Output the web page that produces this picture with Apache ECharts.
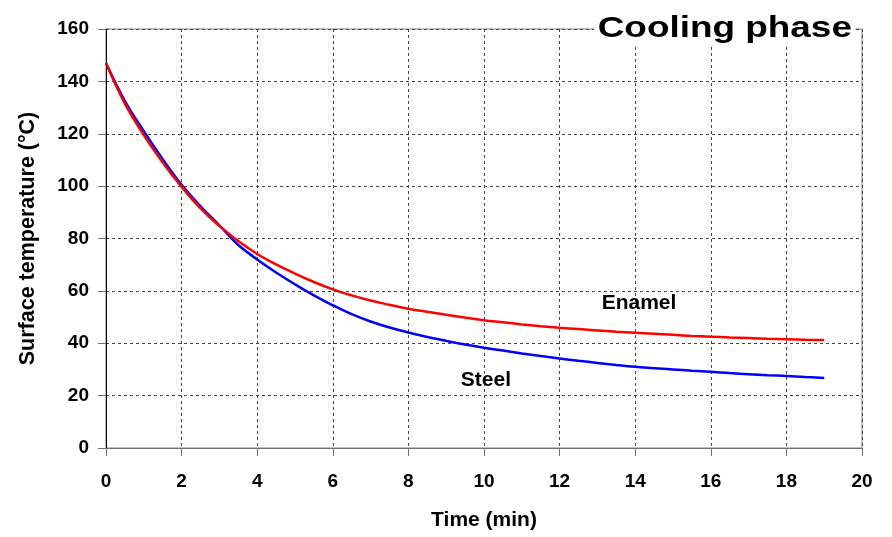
<!DOCTYPE html>
<html>
<head>
<meta charset="utf-8">
<script src="https://cdn.jsdelivr.net/npm/echarts@6/dist/echarts.min.js"></script>
<style>
  html, body { margin: 0; padding: 0; background: #fff; }
  #chart { width: 892px; height: 537px; }
</style>
</head>
<body>
<div id="chart"></div>
<script>
  // time in minutes (every half minute), surface temperature in °C
  var times = [0, 0.5, 1, 1.5, 2, 2.5, 3, 3.5, 4, 4.5, 5, 5.5, 6, 6.5, 7, 7.5, 8, 8.5, 9, 9.5,
               10, 10.5, 11, 11.5, 12, 12.5, 13, 13.5, 14, 14.5, 15, 15.5, 16, 16.5, 17, 17.5, 18, 18.5, 19];
  var enamel = [147, 131.5, 119.5, 109, 99.7, 91.5, 84.8, 79, 74.1, 70.1, 66.6, 63.4, 60.6, 58.3, 56.3, 54.7, 53.2, 52, 50.9, 49.8,
                48.8, 48, 47.2, 46.5, 45.9, 45.4, 44.9, 44.4, 44.0, 43.6, 43.2, 42.8, 42.5, 42.2, 42.0, 41.7, 41.5, 41.3, 41.2];
  var steel = [147, 132.5, 121, 110.3, 100.5, 92.3, 85, 77.5, 72, 67, 62.5, 58.3, 54.5, 51.1, 48.3, 46.0, 44.1, 42.4, 40.9, 39.5,
               38.3, 37.2, 36.1, 35.1, 34.2, 33.3, 32.5, 31.7, 31.0, 30.5, 30.0, 29.5, 29.1, 28.6, 28.2, 27.8, 27.5, 27.1, 26.7];

  function pairs(ys) {
    return times.map(function (t, i) { return [t, ys[i]]; });
  }

  var font = '"Liberation Sans", Arial, sans-serif';
  var myChart = echarts.init(document.getElementById('chart'));

  var option = {
    animation: false,
    grid: {
      left: 106, right: 30, top: 29, bottom: 89,
      show: true, borderColor: '#808080', borderWidth: 1
    },
    xAxis: {
      type: 'value',
      min: 0, max: 20, interval: 2,
      name: 'Time (min)',
      nameLocation: 'middle',
      nameGap: 62,
      nameTextStyle: { fontFamily: font, fontWeight: 'bold', fontSize: 21, color: '#000' },
      axisLine: { lineStyle: { color: '#707070', width: 1 } },
      axisTick: { show: true, length: 8, lineStyle: { color: '#707070' } },
      axisLabel: { margin: 24, fontFamily: font, fontWeight: 'bold', fontSize: 19, color: '#000' },
      splitLine: { show: true, lineStyle: { color: '#444', type: [3, 3], width: 1 } }
    },
    yAxis: {
      type: 'value',
      min: 0, max: 160, interval: 20,
      name: 'Surface temperature (°C)',
      nameLocation: 'middle',
      nameGap: 67,
      nameTextStyle: { fontFamily: font, fontWeight: 'bold', fontSize: 21.5, color: '#000' },
      axisLine: { show: true, lineStyle: { color: '#000', width: 1 } },
      axisTick: { show: true, length: 8, lineStyle: { color: '#707070' } },
      axisLabel: { margin: 17, fontFamily: font, fontWeight: 'bold', fontSize: 19, color: '#000' },
      splitLine: { show: true, lineStyle: { color: '#444', type: [3, 3], width: 1 } }
    },
    graphic: [{
      type: 'text',
      x: 594, y: 14,
      scaleX: 1.23,
      z: 100,
      style: {
        text: 'Cooling phase',
        font: 'bold 30px ' + font,
        fill: '#000',
        verticalAlign: 'top',
        backgroundColor: '#fff',
        padding: [0, 3]
      }
    }],
    series: [
      {
        name: 'Steel',
        type: 'line',
        smooth: 0.4,
        showSymbol: false,
        data: pairs(steel),
        lineStyle: { color: '#0000ff', width: 2.5 },
        itemStyle: { color: '#0000ff' },
        markPoint: {
          symbolSize: 0,
          label: { show: true, formatter: 'Steel', fontFamily: font, fontWeight: 'bold', fontSize: 21, color: '#000' },
          data: [{ coord: [10.05, 26] }]
        }
      },
      {
        name: 'Enamel',
        type: 'line',
        smooth: 0.4,
        showSymbol: false,
        data: pairs(enamel),
        lineStyle: { color: '#ff0000', width: 2.5 },
        itemStyle: { color: '#ff0000' },
        markPoint: {
          symbolSize: 0,
          label: { show: true, formatter: 'Enamel', fontFamily: font, fontWeight: 'bold', fontSize: 21, color: '#000' },
          data: [{ coord: [14.1, 55.4] }]
        }
      }
    ]
  };

  myChart.setOption(option);
</script>
</body>
</html>
